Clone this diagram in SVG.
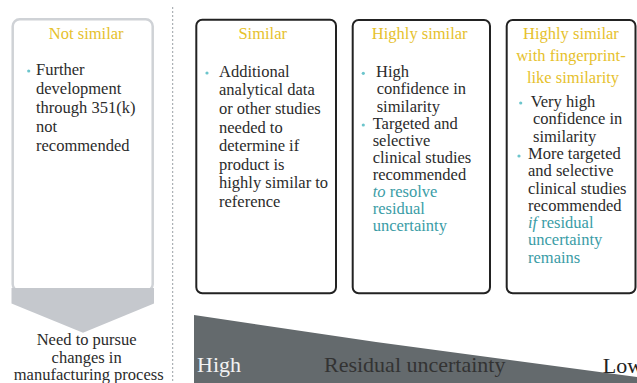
<svg xmlns="http://www.w3.org/2000/svg" width="637" height="383" viewBox="0 0 637 383">
  <style>
    text { font-family: "Liberation Serif", "Times New Roman", serif; }
    .title { font-size: 16.5px; fill: #e6c12c; text-anchor: middle; }
    .body { font-size: 16.5px; fill: #2b2b2b; }
    .hl { fill: #3a9ca6; }
    .em { font-style: italic; }
    .dot { fill: #6cc5cc; }
    .box { fill: #ffffff; stroke: #222222; stroke-width: 2; }
    .scale { font-size: 22px; }
  </style>

  <!-- divider between "not similar" and the similarity levels -->
  <line x1="172.7" y1="7" x2="172.7" y2="383" stroke="#9aa0a6" stroke-width="1" stroke-dasharray="2,2"/>

  <!-- Not similar -->
  <g id="not-similar">
    <rect x="12.7" y="19.3" width="140" height="272" rx="7" fill="#ffffff" stroke="#cfd2d6" stroke-width="2.5"/>
    <path d="M11.5,288 H154 V303.5 L83,332.7 L11.5,303.5 Z" fill="#c5c8cd"/>
    <text class="title" x="86.2" y="39">Not similar</text>
    <circle class="dot" cx="28.7" cy="71" r="1.6"/>
    <text class="body">
      <tspan x="36" y="75">Further</tspan>
      <tspan x="36" y="94">development</tspan>
      <tspan x="36" y="113">through 351(k)</tspan>
      <tspan x="36" y="132">not</tspan>
      <tspan x="36" y="150.7">recommended</tspan>
    </text>
    <text class="body" text-anchor="middle">
      <tspan x="88.7" y="345">Need to pursue</tspan>
      <tspan x="88.7" y="362.5">changes in</tspan>
      <tspan x="88.7" y="380">manufacturing process</tspan>
    </text>
  </g>

  <!-- Similar -->
  <g id="similar">
    <rect class="box" x="196.3" y="19.7" width="139.7" height="273.5" rx="6"/>
    <text class="title" x="262.7" y="39">Similar</text>
    <circle class="dot" cx="207" cy="73" r="1.6"/>
    <text class="body">
      <tspan x="219" y="76.7">Additional</tspan>
      <tspan x="219" y="95.3">analytical data</tspan>
      <tspan x="219" y="113.9">or other studies</tspan>
      <tspan x="219" y="132.5">needed to</tspan>
      <tspan x="219" y="151.1">determine if</tspan>
      <tspan x="219" y="169.7">product is</tspan>
      <tspan x="219" y="188.3">highly similar to</tspan>
      <tspan x="219" y="206.9">reference</tspan>
    </text>
  </g>

  <!-- Highly similar -->
  <g id="highly-similar">
    <rect class="box" x="352.7" y="20" width="137.3" height="273.3" rx="6"/>
    <text class="title" x="419.7" y="39">Highly similar</text>
    <circle class="dot" cx="363.3" cy="73.3" r="1.6"/>
    <circle class="dot" cx="363.3" cy="125" r="1.6"/>
    <text class="body">
      <tspan x="376" y="77.3">High</tspan>
      <tspan x="376.7" y="94.4">confidence in</tspan>
      <tspan x="376.7" y="111.5">similarity</tspan>
      <tspan x="372.7" y="128.6">Targeted and</tspan>
      <tspan x="372.7" y="145.7">selective</tspan>
      <tspan x="372.7" y="162.8">clinical studies</tspan>
      <tspan x="372.7" y="179.9">recommended</tspan>
      <tspan x="372.7" y="197" class="hl"><tspan class="em">to</tspan> resolve</tspan>
      <tspan x="372.7" y="214.1" class="hl">residual</tspan>
      <tspan x="372.7" y="231.2" class="hl">uncertainty</tspan>
    </text>
  </g>

  <!-- Highly similar with fingerprint-like similarity -->
  <g id="fingerprint-like">
    <rect class="box" x="506.7" y="20" width="128.8" height="273.3" rx="6"/>
    <text class="title">
      <tspan x="573" y="39">Highly similar</tspan>
      <tspan x="573" y="61">with fingerprint-</tspan>
      <tspan x="573" y="82.7">like similarity</tspan>
    </text>
    <circle class="dot" cx="520.7" cy="103" r="1.6"/>
    <circle class="dot" cx="519" cy="156" r="1.6"/>
    <text class="body">
      <tspan x="530.7" y="107">Very high</tspan>
      <tspan x="533" y="124.3">confidence in</tspan>
      <tspan x="533" y="141.6">similarity</tspan>
      <tspan x="528" y="158.9">More targeted</tspan>
      <tspan x="528" y="176.2">and selective</tspan>
      <tspan x="528" y="193.5">clinical studies</tspan>
      <tspan x="528" y="210.8">recommended</tspan>
      <tspan x="528" y="228.1" class="hl"><tspan class="em">if</tspan> residual</tspan>
      <tspan x="528" y="245.4" class="hl">uncertainty</tspan>
      <tspan x="528" y="262.7" class="hl">remains</tspan>
    </text>
  </g>

  <!-- Residual uncertainty wedge -->
  <g id="uncertainty-scale">
    <path d="M194,315 L376,342 L637,377 V383 H194 Z" fill="#646a6d"/>
    <text class="scale" x="197" y="372" fill="#f2f2f2">High</text>
    <text class="scale" x="324" y="372" fill="#333333">Residual uncertainty</text>
    <text class="scale" x="602.7" y="373" fill="#222222">Low</text>
  </g>
</svg>
